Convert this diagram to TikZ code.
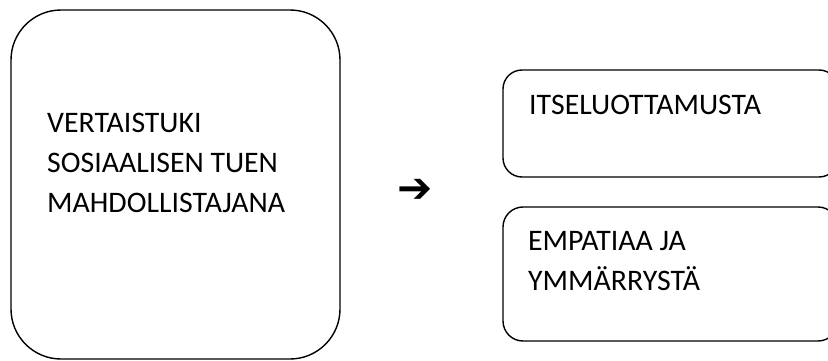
\documentclass[tikz,border=0pt]{standalone}
\usepackage{fontspec}
\setmainfont{Carlito}
\newfontfamily\symfont{DejaVu Sans}
\begin{document}
\begin{tikzpicture}[x=1pt,y=-1pt,
  boxline/.style={draw=black,line width=1.4pt},
  boxtext/.style={anchor=base west,inner sep=0pt,font=\fontsize{29.8}{40}\selectfont,align=left}]
\useasboundingbox (0,0) rectangle (828,361);
\begin{scope}
\clip (0,0) rectangle (828,361);
\draw[boxline,rounded corners=50pt] (11,10) rectangle (340,359);
\draw[boxline,rounded corners=19pt] (503,70) rectangle (838,177);
\draw[boxline,rounded corners=20pt] (503,207) rectangle (838,341);
\end{scope}
\node[boxtext] (left) at (47,212) {VERTAISTUKI\\SOSIAALISEN TUEN\\MAHDOLLISTAJANA};
\node[boxtext] (top) at (529,114) {ITSELUOTTAMUSTA};
\node[boxtext] (bot) at (528,290) {EMPATIAA JA\\YMMÄRRYSTÄ};
\node[inner sep=0pt,font=\symfont\fontsize{42}{42}\selectfont] (arrow) at (415.5,191) {➔};
\end{tikzpicture}
\end{document}
